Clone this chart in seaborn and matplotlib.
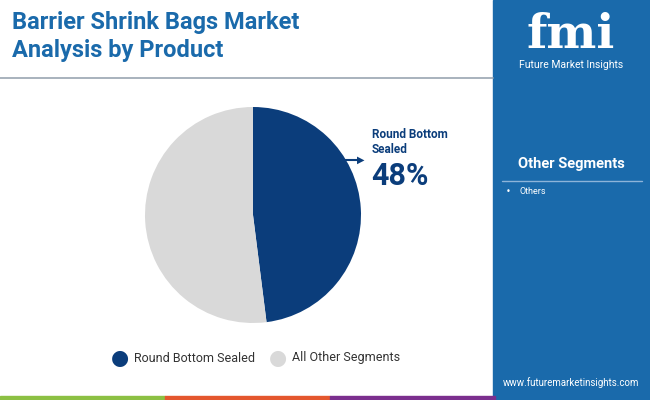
import matplotlib
matplotlib.use("Agg")
import matplotlib.pyplot as plt
import seaborn as sns
from matplotlib.patches import Rectangle

sns.set_theme(style="white")
labels = ["Round Bottom Sealed", "All Other Segments"]
values = [48, 52]
colors = ["#0b3d7b", "#d9d9d9"]
others = ["Others"]

W, H = 650, 400
fig = plt.figure(figsize=(6.5, 4.0), dpi=100)
fig.patch.set_facecolor("white")

def fx(x): return x / W
def fy(y): return 1 - y / H

fig.patches.append(Rectangle((fx(493), 0), 1 - fx(493), 1, transform=fig.transFigure, color="#1a6aab", zorder=0))
fig.add_artist(plt.Line2D([0, fx(493)], [fy(78), fy(78)], color="#9aa5b1", lw=1.2))
for i, c in enumerate(["#8cc043", "#e4572e", "#7b2f8e"]):
    fig.patches.append(Rectangle((fx(165 * i), 0), fx(165), 4 / H, transform=fig.transFigure, color=c, zorder=1))

fig.text(fx(12), fy(22), "Barrier Shrink Bags Market", fontsize=17, fontweight="bold", color="#1a6aab", va="center", family="Roboto")
fig.text(fx(12), fy(50), "Analysis by Product", fontsize=17, fontweight="bold", color="#1a6aab", va="center", family="Roboto")

fig.text(fx(571), fy(35), "fmi", fontsize=34, fontweight="bold", color="white", ha="center", va="center", family="DejaVu Serif")
fig.text(fx(571), fy(65), "Future Market Insights", fontsize=7.5, color="white", ha="center", va="center", family="Roboto")

fig.text(fx(571), fy(164), "Other Segments", fontsize=10.5, fontweight="bold", color="white", ha="center", va="center", family="Roboto")
fig.add_artist(plt.Line2D([fx(502), fx(642)], [fy(181), fy(181)], color="#8db4d9", lw=1))
for i, o in enumerate(others):
    fig.text(fx(506), fy(192 + 14 * i), "•", fontsize=6, color="white", va="center")
    fig.text(fx(519), fy(192 + 14 * i), o, fontsize=6.5, color="white", va="center", family="Roboto")
fig.text(fx(571), fy(383), "www.futuremarketinsights.com", fontsize=7, color="white", ha="center", va="center", family="Roboto")

r = 108
ax = fig.add_axes([fx(253 - r), fy(215 + r), 2 * r / W, 2 * r / H])
ax.pie(values, colors=colors, startangle=90, counterclock=False, wedgeprops=dict(linewidth=0))
ax.set_xlim(-1, 1)
ax.set_ylim(-1, 1)
ax.set_aspect("equal")
ax.axis("off")

fig.add_artist(plt.Line2D([fx(343), fx(360)], [fy(160), fy(160)], color="#0b3d7b", lw=1.5))
fig.text(fx(361), fy(160), "▶", fontsize=7, color="#0b3d7b", ha="center", va="center")
fig.text(fx(372), fy(134), "Round Bottom", fontsize=8.5, fontweight="bold", color="#0b3d7b", va="center", family="Roboto")
fig.text(fx(372), fy(149), "Sealed", fontsize=8.5, fontweight="bold", color="#0b3d7b", va="center", family="Roboto")
fig.text(fx(371), fy(176), "48%", fontsize=22, fontweight="bold", color="#0b3d7b", va="center", family="Roboto")

for cx, lab, c in [(120, labels[0], colors[0]), (278, labels[1], colors[1])]:
    fig.text(fx(cx), fy(358), "●", fontsize=15, color=c, ha="center", va="center")
    fig.text(fx(cx + 14), fy(358), lab, fontsize=9, color="#333333", va="center", family="Roboto")

fig.savefig("out.png", dpi=100)
